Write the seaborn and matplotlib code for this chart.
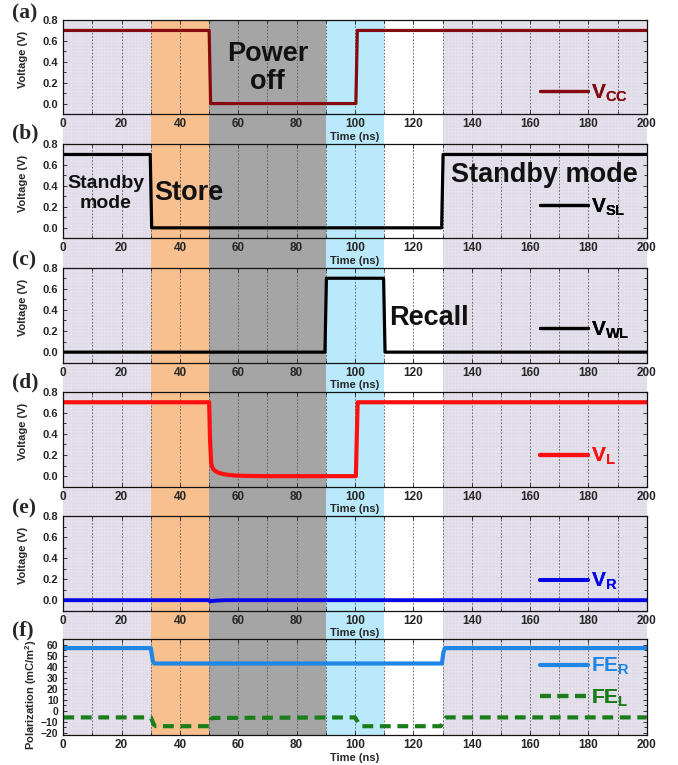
import matplotlib
matplotlib.use("Agg")
import matplotlib.pyplot as plt
import matplotlib.transforms as mtransforms
from matplotlib.patches import Rectangle
from matplotlib.font_manager import FontProperties
from matplotlib.ticker import MultipleLocator, FormatStrFormatter
import seaborn as sns

# ---- operating phases (ns) and their background colours ----
phase_edges = [0, 30, 50, 90, 110, 130, 200]
phase_colors = ["#dfdbe8", "#f9c08f", "#a5a5a5", "#b9e9fb", None, "#dfdbe8"]

# ---- waveforms ----
t_vcc = [0, 50, 50.5, 100.3, 100.8, 200]
v_cc = [0.7, 0.7, 0.0, 0.0, 0.7, 0.7]

t_sl = [0, 29.8, 30.3, 129.7, 130.2, 200]
v_sl = [0.7, 0.7, 0.0, 0.0, 0.7, 0.7]

t_wl = [0, 89.7, 90.2, 109.8, 110.3, 200]
v_wl = [0.0, 0.0, 0.7, 0.7, 0.0, 0.0]

t_l = [0, 50, 50.3, 50.7, 51.2, 52, 53, 54.5, 56.5, 59, 63, 70, 100.3, 100.9, 200]
v_l = [0.7, 0.7, 0.35, 0.12, 0.075, 0.05, 0.035, 0.022, 0.012, 0.006, 0.002, 0.0,
       0.0, 0.7, 0.7]

t_r = [0, 50, 50.3, 51, 53, 56, 200]
v_r = [0.0, 0.0, -0.012, -0.007, -0.003, 0.0, 0.0]

t_fer = [0, 30, 30.3, 30.7, 31.2, 129.8, 130.3, 130.8, 200]
p_fer = [57, 57, 52, 45, 43, 43, 53, 57, 57]

t_fel = [0, 30, 30.5, 31, 31.8, 50, 50.5, 51.2, 100, 100.7, 101.5, 102.5,
         129.4, 130.3, 131.2, 200]
p_fel = [-6, -6, -9, -12.5, -14, -14, -8, -6.5, -6, -9, -13, -14,
         -14, -9, -6, -6]

volt_ticks = [0.0, 0.2, 0.4, 0.6, 0.8]
pol_ticks = [-20, -10, 0, 10, 20, 30, 40, 50, 60]
time_ticks = [0, 20, 40, 60, 80, 100, 120, 140, 160, 180, 200]

sns.set_theme(style="ticks")
plt.rcParams["font.family"] = ["Liberation Sans", "DejaVu Sans"]
plt.rcParams["font.weight"] = "bold"
plt.rcParams["axes.labelweight"] = "bold"
plt.rcParams["mathtext.fontset"] = "custom"
plt.rcParams["mathtext.bf"] = "Liberation Sans:bold"
plt.rcParams["mathtext.rm"] = "Liberation Sans:bold"
plt.rcParams["hatch.linewidth"] = 0.3

W, H = 678, 765
fig = plt.figure(figsize=(W / 100, H / 100), dpi=100)

left_px, right_px = 63.3, 646.7
tops = [20, 144, 267.7, 391.7, 516, 639.3]
bottoms = [114, 238.3, 362.7, 486.7, 610.7, 735]

axes = []
for top, bot in zip(tops, bottoms):
    ax = fig.add_axes([left_px / W, 1 - bot / H, (right_px - left_px) / W, (bot - top) / H])
    ax.set_facecolor("none")
    axes.append(ax)

# phase shading spanning all panels
trans = mtransforms.blended_transform_factory(axes[0].transData, fig.transFigure)
y0 = 1 - bottoms[-1] / H
y1 = 1 - tops[0] / H
for x0, x1, c in zip(phase_edges[:-1], phase_edges[1:], phase_colors):
    if c is None:
        continue
    if c == "#dfdbe8":
        rect = Rectangle((x0, y0), x1 - x0, y1 - y0, transform=trans, facecolor=c,
                         edgecolor="#e9e7ee", hatch="+++++", linewidth=0, zorder=-5)
    else:
        rect = Rectangle((x0, y0), x1 - x0, y1 - y0, transform=trans, facecolor=c,
                         linewidth=0, zorder=-5)
    fig.add_artist(rect)

series = [
    [(t_vcc, v_cc, "#850a0f", 2.3, "-", r"$\mathbf{V_{CC}}$")],
    [(t_sl, v_sl, "#000000", 2.3, "-", r"$\mathbf{V_{SL}}$")],
    [(t_wl, v_wl, "#000000", 2.3, "-", r"$\mathbf{V_{WL}}$")],
    [(t_l, v_l, "#ff1010", 3.0, "-", r"$\mathbf{V_{L}}$")],
    [(t_r, v_r, "#0505e6", 2.8, "-", r"$\mathbf{V_{R}}$")],
    [(t_fer, p_fer, "#1e86e6", 3.0, "-", r"$\mathbf{FE_{R}}$"),
     (t_fel, p_fel, "#1a7d1a", 3.0, (0, (2.6, 1.6)), r"$\mathbf{FE_{L}}$")],
]
legend_y = [[0.22], [0.329], [0.344], [0.316], [0.306], [0.714, 0.383]]

for i, ax in enumerate(axes):
    lines = []
    for (t, v, c, lw, ls, lab) in series[i]:
        sns.lineplot(x=t, y=v, ax=ax, color=c, lw=lw, linestyle=ls, estimator=None,
                     sort=False, legend=False, label=lab)
        lines.append(ax.get_lines()[-1])

    ax.set_xlim(0, 200)
    ax.set_xticks(time_ticks)
    ax.xaxis.set_minor_locator(MultipleLocator(10))
    if i < 5:
        ax.set_ylim(-0.1, 0.8)
        ax.set_yticks(volt_ticks)
        ax.yaxis.set_minor_locator(MultipleLocator(0.1))
        ax.yaxis.set_major_formatter(FormatStrFormatter("%.1f"))
        ax.set_ylabel("Voltage (V)", fontsize=8)
        ax.yaxis.set_label_coords(-0.0605, 0.58)
        ylab_size = 8
    else:
        ax.set_ylim(-22, 65)
        ax.set_yticks(pol_ticks)
        ax.yaxis.set_minor_locator(MultipleLocator(5))
        ax.set_ylabel("Polarization (mC/m$^\\mathbf{2}$)", fontsize=8)
        ax.yaxis.set_label_coords(-0.042, 0.42)
        ylab_size = 7.5
    ax.set_xlabel("Time (ns)", fontsize=8, labelpad=1)
    ax.tick_params(axis="x", which="major", labelsize=8.5, pad=3)
    ax.tick_params(axis="y", which="major", labelsize=ylab_size, pad=3.5)
    ax.tick_params(which="both", direction="in", top=True, right=True,
                   width=0.7, color="#333333")
    ax.tick_params(which="major", length=3)
    ax.tick_params(which="minor", length=2)
    ax.set_axisbelow(True)
    ax.grid(axis="x", which="both", linestyle=(0, (2, 2)), linewidth=0.6, color="#555555")
    ax.grid(axis="y", which="both", visible=False)
    for s in ax.spines.values():
        s.set_linewidth(0.9)
        s.set_color("#111111")

    for ln, ly in zip(lines, legend_y[i]):
        leg = ax.legend([ln], [ln.get_label()], loc="center left",
                        bbox_to_anchor=(0.8165, ly), frameon=False, borderpad=0,
                        borderaxespad=0, handlelength=2.3, handletextpad=0.15,
                        fontsize=15, labelcolor="linecolor")
        ax.add_artist(leg)

# phase annotations
axes[0].text(70, 0.345, "Power\noff", fontsize=19.5, ha="center", va="center",
             linespacing=1.1, color="#111111")
axes[1].text(43, 0.333, "Store", fontsize=19.5, ha="center", va="center", color="#111111")
axes[1].text(14.6, 0.325, "Standby\nmode", fontsize=14, ha="center", va="center",
             linespacing=1.2, color="#111111")
axes[1].text(165, 0.50, "Standby mode", fontsize=19.5, ha="center", va="center",
             color="#111111")
axes[2].text(125.4, 0.324, "Recall", fontsize=19.5, ha="center", va="center",
             color="#111111")

# panel letters
letter_font = FontProperties(family="Liberation Serif", weight="bold", size=15.5)
for letter, yc in zip("abcdef", [13.5, 133, 260, 382, 508, 630]):
    fig.text(12 / W, 1 - yc / H, f"({letter})", fontproperties=letter_font,
             ha="left", va="center")

fig.savefig("out.png", dpi=100)
